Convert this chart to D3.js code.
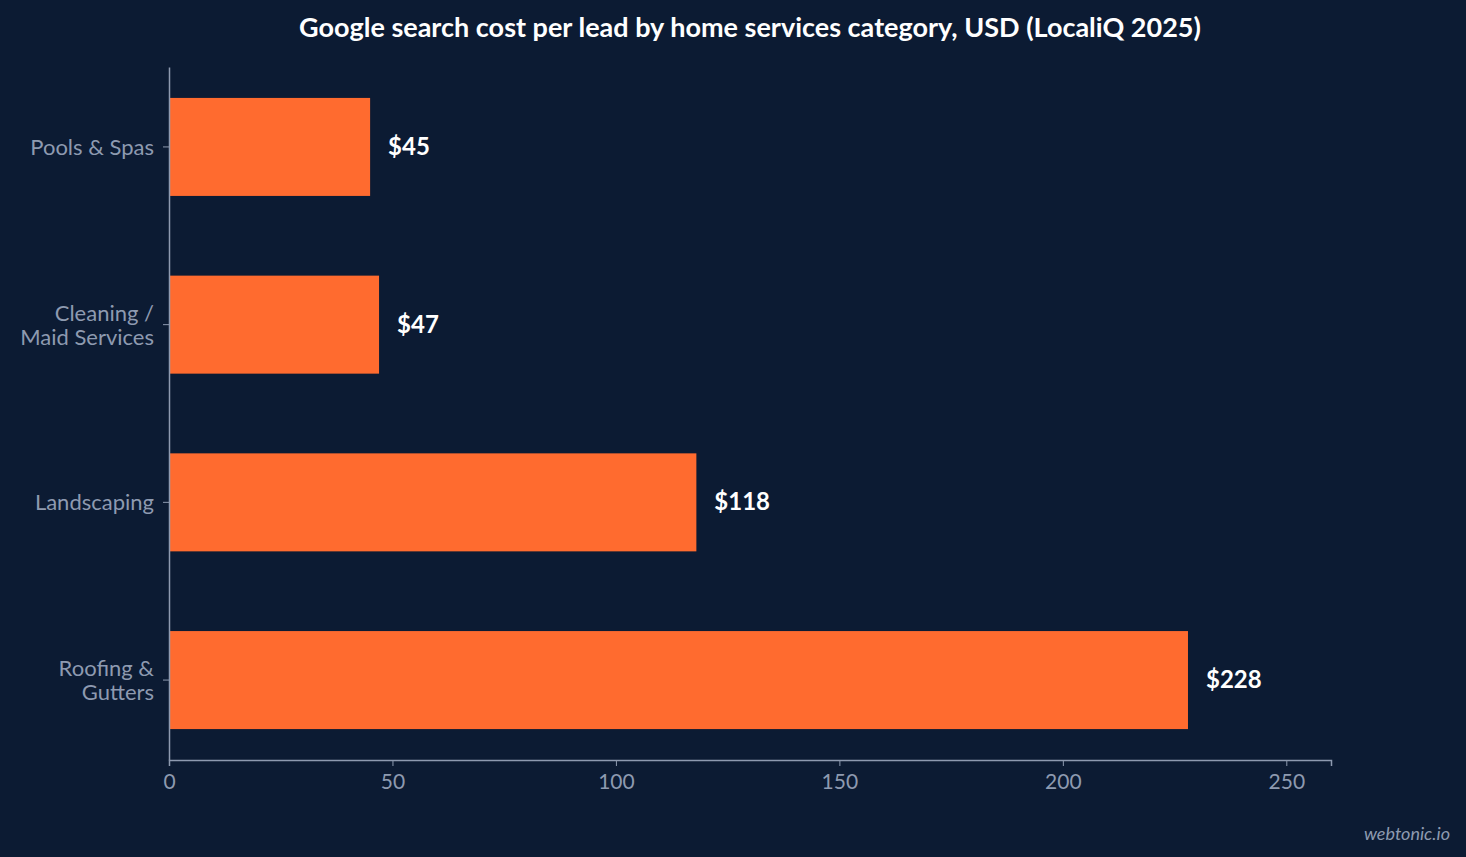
<!DOCTYPE html>
<html><head><meta charset="utf-8">
<script src="https://cdn.jsdelivr.net/npm/d3@7"></script>
<style>body{margin:0;background:#0c1b33;}svg{display:block;font-family:Lato,sans-serif;}</style>
</head><body>
<script>
const categories = [["Pools & Spas"], ["Cleaning /", "Maid Services"], ["Landscaping"], ["Roofing &", "Gutters"]];
const values = [45, 47, 118, 228];
const valueLabels = ["$45", "$47", "$118", "$228"];
const xTicks = [0, 50, 100, 150, 200, 250];
const title = "Google search cost per lead by home services category, USD (LocaliQ 2025)";

const W = 1466, H = 857;
const svg = d3.select("body").append("svg").attr("width", W).attr("height", H);
svg.append("rect").attr("width", W).attr("height", H).attr("fill", "#0c1b33");
const mLeft = 169, mRight = 1331, mTop = 67, mBottom = 760;
const x = d3.scaleLinear().domain([0, 260]).range([mLeft, mRight]);
const y = d3.scaleBand().domain(d3.range(categories.length)).range([mTop, mBottom]).paddingInner(0.4485).paddingOuter(0.174);
const grey = "#8e9ab0";

svg.append("text").attr("x", 750).attr("y", 37).attr("text-anchor", "middle")
  .attr("fill", "#fff").attr("font-size", 27).attr("font-weight", "bold").text(title);

svg.selectAll("rect.bar").data(values).join("rect").attr("class", "bar")
  .attr("x", x(0)).attr("y", (d, i) => y(i)).attr("width", d => x(d) - x(0))
  .attr("height", y.bandwidth()).attr("fill", "#ff6b2f");

svg.selectAll("text.val").data(values).join("text").attr("class", "val")
  .attr("x", d => x(d) + 18).attr("y", (d, i) => y(i) + y.bandwidth() / 2 + 8)
  .attr("fill", "#fff").attr("font-size", 24).attr("font-weight", "bold")
  .text((d, i) => valueLabels[i]);

const xa = svg.append("g").attr("transform", `translate(0,${mBottom})`)
  .call(d3.axisBottom(x).tickValues(xTicks).tickSize(6).tickPadding(8));
xa.select(".domain").attr("stroke", grey).attr("stroke-width", 1.5);
xa.selectAll("line").attr("stroke", grey);
xa.selectAll("text").attr("fill", grey).attr("font-size", 21).attr("font-family", "Lato");

const ya = svg.append("g").attr("transform", `translate(${mLeft},0)`)
  .call(d3.axisLeft(y).tickSize(6).tickSizeOuter(0).tickFormat(""));
ya.select(".domain").attr("stroke", grey).attr("stroke-width", 1.5);
ya.selectAll("line").attr("stroke", grey);
categories.forEach((lines, i) => {
  const cy = y(i) + y.bandwidth() / 2;
  const t = svg.append("text").attr("text-anchor", "end").attr("fill", grey)
    .attr("font-size", 22);
  lines.forEach((l, j) => {
    t.append("tspan").attr("x", 154)
      .attr("y", cy + 8 + (j - (lines.length - 1) / 2) * 24).text(l);
  });
});

svg.append("text").attr("x", 1450).attr("y", 840).attr("text-anchor", "end")
  .attr("fill", grey).attr("font-size", 18).attr("font-style", "italic").text("webtonic.io");
</script>
</body></html>
